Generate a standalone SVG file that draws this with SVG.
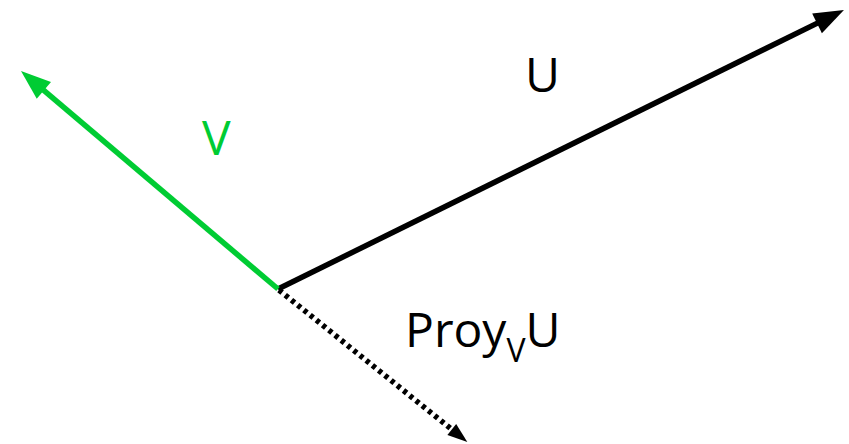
<svg xmlns="http://www.w3.org/2000/svg" width="849" height="444" viewBox="0 0 849 444">
<style>
.lbl{font-family:"Open Sans","Liberation Sans",sans-serif;font-size:48px;}
.vec{fill:none;stroke-width:5.5;}
</style>
<defs>
<marker id="headBlack" markerUnits="userSpaceOnUse" markerWidth="30" markerHeight="22" refX="14" refY="11" orient="auto" overflow="visible">
<path d="M0,0 L30,11 L0,22 z" fill="#000"/>
</marker>
<marker id="headGreen" markerUnits="userSpaceOnUse" markerWidth="30" markerHeight="22" refX="14" refY="11" orient="auto" overflow="visible">
<path d="M0,0 L30,11 L0,22 z" fill="#00CC33"/>
</marker>
<marker id="headSmall" markerUnits="userSpaceOnUse" markerWidth="20" markerHeight="14" refX="8" refY="7" orient="auto" overflow="visible">
<path d="M0,0 L20,7 L0,14 z" fill="#000"/>
</marker>
</defs>
<rect width="849" height="444" fill="#fff"/>
<g id="connectors">
<line id="vecU" class="vec" x1="278" y1="289" x2="829.6" y2="17.1" stroke="#000" marker-end="url(#headBlack)"/>
<line id="vecV" class="vec" x1="278" y1="289" x2="33.2" y2="81.4" stroke="#00CC33" marker-end="url(#headGreen)"/>
<line id="vecProj" class="vec" x1="279" y1="290" x2="458" y2="434.5" stroke="#000" stroke-width="6" stroke-dasharray="4 4" marker-end="url(#headSmall)"/>
</g>
<g id="labelU"><text class="lbl" x="525" y="92" fill="#000">U</text></g>
<g id="labelV"><text class="lbl" x="202" y="155" fill="#00CC33">V</text></g>
<g id="labelProj"><text class="lbl" x="405" y="347" fill="#000">Proy<tspan font-size="32" dy="15">V</tspan><tspan dy="-15">U</tspan></text></g>
</svg>
